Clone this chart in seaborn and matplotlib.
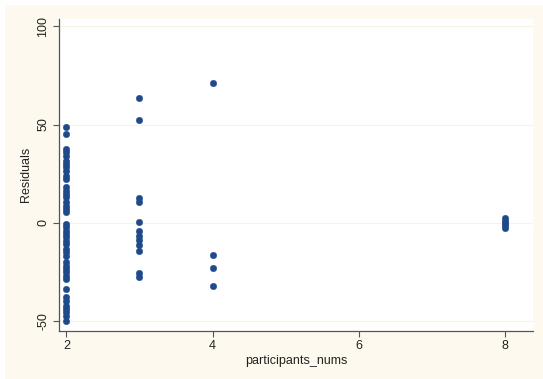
import matplotlib
matplotlib.use("Agg")
import matplotlib.pyplot as plt
import numpy as np
import pandas as pd
import seaborn as sns
from matplotlib.patches import Rectangle

# residuals, grouped by participants_nums
resid_2 = [48.7, 45.3, 37.6, 35.9, 34.2, 31.7, 30.0, 28.3, 26.6, 24.1, 22.4,
           18.1, 16.4, 14.8, 13.0, 10.5, 8.8, 7.1, 5.4, -0.5, -2.2, -3.9,
           -5.6, -7.3, -9.0, -10.7, -13.2, -14.9, -16.6, -20.0, -21.7, -23.4,
           -25.1, -26.8, -28.5, -33.6, -37.8, -39.5, -42.0, -43.7, -45.4,
           -47.1, -49.7]
resid_3 = [63.6, 52.5, 12.7, 10.8, 0.3, -3.9, -6.5, -8.6, -11.0, -14.4,
           -25.6, -27.6]
resid_4 = [71.1, -16.3, -22.9, -32.2]
resid_8 = [2.5, 1.0, 0.0, -1.2, -2.6]

x_ticks = [2, 4, 6, 8]
y_ticks = [-50, 0, 50, 100]

df = pd.DataFrame({
    "participants_nums": [2] * len(resid_2) + [3] * len(resid_3)
    + [4] * len(resid_4) + [8] * len(resid_8),
    "Residuals": resid_2 + resid_3 + resid_4 + resid_8,
})

sns.set_style("ticks")
plt.rcParams["font.family"] = ["Liberation Sans", "DejaVu Sans"]

cream = "#fef9ee"
navy = "#1f4a8a"

fig = plt.figure(figsize=(5.43, 3.79), dpi=100, facecolor="white")
fig.patches.append(Rectangle((5 / 543, 0), 1, 1 - 5 / 379, transform=fig.transFigure,
                             facecolor=cream, edgecolor="none", zorder=-10))
ax = fig.add_axes([59 / 543, 1 - 330.5 / 379, (533 - 59) / 543, (330.5 - 19) / 379])
ax.set_facecolor("white")

sns.scatterplot(data=df, x="participants_nums", y="Residuals", ax=ax,
                color=navy, s=22, edgecolor=navy, linewidth=0.3, zorder=3)

ax.set_xlim(1.9, 8.38)
ax.set_ylim(-54.6, 103.6)
ax.set_xticks(x_ticks)
ax.set_yticks(y_ticks)
ax.set_yticklabels([str(t) for t in y_ticks], rotation=90, va="center")
for t in y_ticks:
    ax.axhline(t, color="#f8f3e2", lw=0.8, zorder=1)

for side in ["top", "right"]:
    ax.spines[side].set_visible(False)
for side in ["left", "bottom"]:
    ax.spines[side].set_color("#555555")
    ax.spines[side].set_linewidth(0.9)
ax.tick_params(direction="out", length=4, width=0.8, color="#555555",
               labelsize=9, labelcolor="#222222", pad=3)
ax.set_xlabel("participants_nums", fontsize=9, color="#222222", labelpad=2)
ax.set_ylabel("Residuals", fontsize=9, color="#222222", labelpad=4)

fig.savefig("out.png", dpi=100, facecolor=fig.get_facecolor())
